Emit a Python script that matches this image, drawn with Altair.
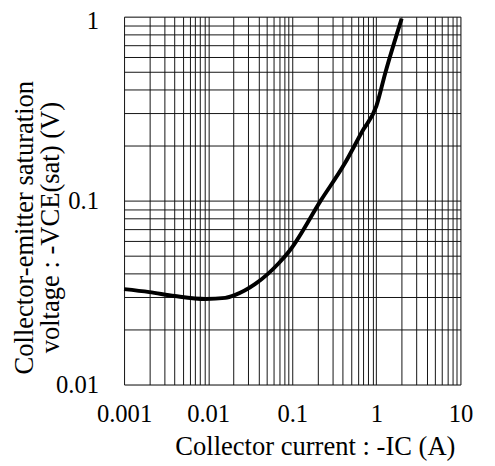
import altair as alt
import pandas as pd

# Curve (collector current in A, VCE(sat) in V)
ic = [0.001, 0.002, 0.004, 0.0093, 0.016, 0.021, 0.036, 0.0686, 0.0949, 0.218, 0.417, 0.676, 1.0, 1.28, 2.0]
vce = [0.0330, 0.0318, 0.0303, 0.0292, 0.0296, 0.0307, 0.0351, 0.0455, 0.0541, 0.100, 0.158, 0.237, 0.326, 0.496, 0.976]

x_grid = [m * 10.0 ** k for k in range(-3, 1) for m in range(1, 10)] + [10.0]
y_grid = [m * 10.0 ** k for k in range(-2, 0) for m in range(1, 10)] + [1.0]

df = pd.DataFrame({"ic": ic, "vce": vce})

decade_label = ("abs(log(datum.value)/LN10 - round(log(datum.value)/LN10)) < 1e-6"
                " ? format(datum.value, '') : ''")

FONT = "Liberation Serif"

chart = alt.Chart(df).mark_line(color="black", strokeWidth=4, interpolate="monotone").encode(
    x=alt.X("ic:Q",
            scale=alt.Scale(type="log", domain=[0.001, 10], nice=False),
            axis=alt.Axis(values=x_grid, labelExpr=decade_label, grid=True,
                          gridColor="#111", gridWidth=1, gridOpacity=1,
                          domain=False, ticks=False, labelPadding=18,
                          labelFont=FONT, labelFontSize=25, labelColor="black",
                          labelOverlap=False, labelFlush=False,
                          title="Collector current : -IC (A)",
                          titleFont=FONT, titleFontSize=27, titleFontWeight="normal",
                          titleColor="black", titleX=194, titleY=71,
                          titleBaseline="alphabetic", titleAlign="center")),
    y=alt.Y("vce:Q",
            scale=alt.Scale(type="log", domain=[0.01, 1], nice=False),
            axis=alt.Axis(values=y_grid, labelExpr=decade_label, grid=True,
                          gridColor="#111", gridWidth=1, gridOpacity=1,
                          domain=False, ticks=False, labelPadding=26,
                          labelFont=FONT, labelFontSize=25, labelColor="black",
                          labelOverlap=False, labelFlush=False, labelBaseline="middle",
                          labelOffset={"condition": {"test": "datum.value == 1", "value": 4}, "value": 0},
                          title=["Collector-emitter saturation", "voltage : -VCE(sat) (V)"],
                          titleFont=FONT, titleFontSize=27, titleFontWeight="normal",
                          titleColor="black", titleX=-101, titleY=214, titleAngle=-90,
                          titleBaseline="middle", titleAlign="center", titleLineHeight=26)),
).properties(
    width=342,
    height=374,
    autosize=alt.AutoSizeParams(type="none"),
    padding={"left": 118, "top": 5, "right": 27, "bottom": 79},
).configure_view(
    stroke="black", strokeWidth=2.5
).configure(background="white")

chart.save("out.html", embed_options={"renderer": "svg", "actions": False})
